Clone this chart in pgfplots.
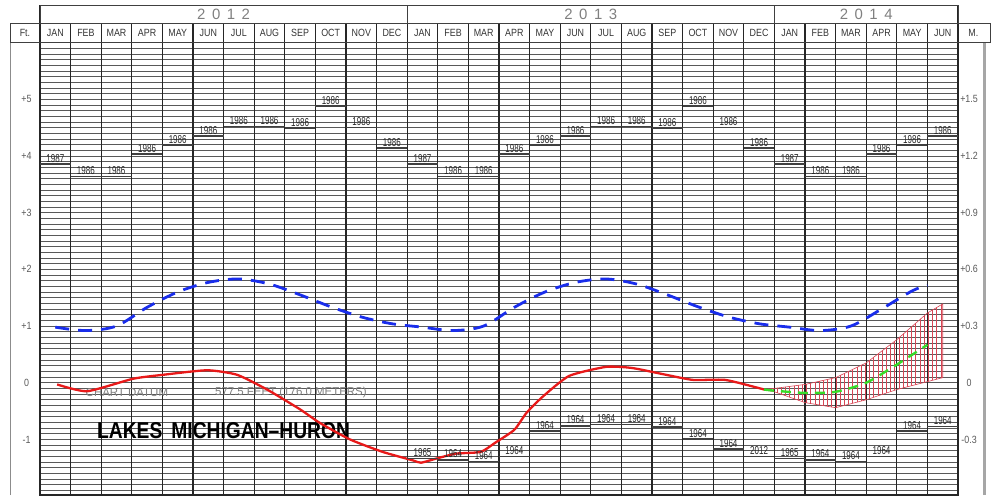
\documentclass[border=0pt]{standalone}
\usepackage{fontspec}
\setmainfont{Liberation Sans}
\newfontfamily\narrow[FakeStretch=0.85]{Liberation Sans}
\newfontfamily\recfont[FakeStretch=0.70]{Liberation Sans}
\newfontfamily\titlefont[FakeStretch=0.84]{Liberation Sans}
\usepackage{pgfplots}
\pgfplotsset{compat=1.18}
\usetikzlibrary{patterns.meta}
\definecolor{lblue}{RGB}{25,45,235}
\definecolor{lred}{RGB}{232,25,25}
\definecolor{lgreen}{RGB}{55,220,40}
\definecolor{hatch}{RGB}{215,70,85}
\newcommand{\yr}[4]{#1\hspace{6.5bp}#2\hspace{6.5bp}#3\hspace{6.5bp}#4}
\tikzset{lscale/.style={font=\narrow\fontsize{10.5}{11}\selectfont, text=black!65}}
\begin{document}
\begin{tikzpicture}
\begin{axis}[
  x=30.6bp, y=56.7bp,
  xmin=0, xmax=30, ymin=-1.98, ymax=6.0,
  clip=false,
  axis line style={black!85, line width=1.1bp},
  xtick={0.5,1.5,...,29.5},
  xticklabels={JAN,FEB,MAR,APR,MAY,JUN,JUL,AUG,SEP,OCT,NOV,DEC,JAN,FEB,MAR,APR,MAY,JUN,JUL,AUG,SEP,OCT,NOV,DEC,JAN,FEB,MAR,APR,MAY,JUN},
  xticklabel pos=upper,
  xtick style={draw=none},
  xticklabel style={anchor=center, yshift=9.2bp, font=\narrow\fontsize{10.5}{11}\selectfont, text=black!80, inner sep=0pt},
  ytick={-1.9,-1.8,...,5.95},
  yticklabels={},
  ytick style={draw=none},
  ymajorgrids,
  grid style={black!65, line width=0.65bp},
]
% bounding box corners
\coordinate (BBsw) at (axis cs:-1.307,-1.98);
\coordinate (BBne) at (axis cs:31.11,6.75);
% month column lines
\pgfplotsinvokeforeach{1,...,29}{\draw[black!85, line width=1.1bp] (axis cs:#1,-1.98) -- (axis cs:#1,6.33);}
\draw[black!85, line width=1.1bp] (axis cs:0,6.0) -- (axis cs:0,6.66);
\draw[black!85, line width=1.1bp] (axis cs:30,6.0) -- (axis cs:30,6.66);
% header rows
\draw[black!75, line width=0.9bp] (axis cs:-0.98,6.0) rectangle (axis cs:31.05,6.33);
\draw[black!75, line width=0.9bp] (axis cs:0,6.33) rectangle (axis cs:30,6.66);
\draw[black!75, line width=0.9bp] (axis cs:12,6.33) -- (axis cs:12,6.66);
\draw[black!75, line width=0.9bp] (axis cs:24,6.33) -- (axis cs:24,6.66);
\draw[black!45, line width=1bp] (axis cs:-0.98,-1.98) -- (axis cs:-0.98,6.0);
\draw[black!35, line width=3bp] (axis cs:30.85,-1.98) -- (axis cs:30.85,6.0);
% header texts
\node[font=\fontsize{15}{16}\selectfont, text=black!50] at (axis cs:6,6.495) {\yr2012};
\node[font=\fontsize{15}{16}\selectfont, text=black!50] at (axis cs:18,6.495) {\yr2013};
\node[font=\fontsize{15}{16}\selectfont, text=black!50] at (axis cs:27,6.495) {\yr2014};
\node[font=\narrow\fontsize{10.5}{11}\selectfont, text=black!80] at (axis cs:-0.49,6.167) {Ft.};
\node[font=\narrow\fontsize{10.5}{11}\selectfont, text=black!80] at (axis cs:30.5,6.167) {M.};
% left / right scale labels
\node[lscale] at (axis cs:-0.44,5) {+5};
\node[lscale] at (axis cs:-0.44,4) {+4};
\node[lscale] at (axis cs:-0.44,3) {+3};
\node[lscale] at (axis cs:-0.44,2) {+2};
\node[lscale] at (axis cs:-0.44,1) {+1};
\node[lscale] at (axis cs:-0.44,0) {0};
\node[lscale] at (axis cs:-0.44,-1) {-1};
\node[lscale] at (axis cs:30.36,5) {+1.5};
\node[lscale] at (axis cs:30.36,4) {+1.2};
\node[lscale] at (axis cs:30.36,3) {+0.9};
\node[lscale] at (axis cs:30.36,2) {+0.6};
\node[lscale] at (axis cs:30.36,1) {+0.3};
\node[lscale] at (axis cs:30.36,0) {0};
\node[lscale] at (axis cs:30.36,-1) {-0.3};
% chart texts
\node[font=\fontsize{11.5}{12}\selectfont, text=black!50] at (axis cs:2.84,-0.176) {CHART DATUM};
\node[font=\fontsize{11.5}{12}\selectfont, text=black!50] at (axis cs:8.2,-0.176) {577.5 FEET (176.0 METERS)};
\node[font=\titlefont\bfseries\fontsize{23}{24}\selectfont, text=black] at (axis cs:6.0,-0.85) {LAKES\hspace{9bp}MICHIGAN–HURON};

% record highs
\addplot[only marks, mark=-, mark size=15.3bp, mark options={line width=1.5bp, draw=black!75},
  nodes near coords, point meta=explicit symbolic,
  every node near coord/.append style={anchor=south, font=\recfont\fontsize{11.5}{12}\selectfont, text=black!85, inner sep=1bp}]
table[meta=lab]{
x y lab
0.5 3.86 1987
1.5 3.64 1986
2.5 3.64 1986
3.5 4.03 1986
4.5 4.19 1986
5.5 4.35 1986
6.5 4.52 1986
7.5 4.52 1986
8.5 4.49 1986
9.5 4.88 1986
10.5 4.50 1986
11.5 4.14 1986
12.5 3.86 1987
13.5 3.64 1986
14.5 3.64 1986
15.5 4.03 1986
16.5 4.19 1986
17.5 4.35 1986
18.5 4.52 1986
19.5 4.52 1986
20.5 4.49 1986
21.5 4.88 1986
22.5 4.50 1986
23.5 4.14 1986
24.5 3.86 1987
25.5 3.64 1986
26.5 3.64 1986
27.5 4.03 1986
28.5 4.19 1986
29.5 4.35 1986
};
% record lows
\addplot[only marks, mark=-, mark size=15.3bp, mark options={line width=1.5bp, draw=black!75},
  nodes near coords, point meta=explicit symbolic,
  every node near coord/.append style={anchor=south, font=\recfont\fontsize{11.5}{12}\selectfont, text=black!85, inner sep=1bp}]
table[meta=lab]{
x y lab
12.5 -1.34 1965
13.5 -1.36 1964
14.5 -1.39 1964
15.5 -1.30 1964
16.5 -0.85 1964
17.5 -0.76 1964
18.5 -0.74 1964
19.5 -0.74 1964
20.5 -0.78 1964
21.5 -0.99 1964
22.5 -1.17 1964
23.5 -1.30 2012
24.5 -1.34 1965
25.5 -1.36 1964
26.5 -1.39 1964
27.5 -1.30 1964
28.5 -0.85 1964
29.5 -0.77 1964
};
% forecast range (hatched)
\addplot[draw=hatch, line width=0.6bp, pattern={Lines[angle=90,distance=4.2bp,line width=0.6bp]}, pattern color=hatch]
coordinates {(23.62,-0.12) (24,-0.10) (25,-0.03) (26,0.09) (27,0.35) (28,0.76) (29,1.23) (29.5,1.39)
 (29.5,0.09) (29,0.02) (28,-0.12) (27,-0.30) (26,-0.44) (25,-0.35) (24,-0.16)} -- cycle;
% long-term average
\addplot[lblue, line width=2.8bp, dash pattern=on 14bp off 9bp, smooth, tension=0.5] coordinates {
(0.5,0.98) (1.5,0.92) (2.5,1.00) (3.5,1.33) (4.5,1.60) (5.5,1.77) (6.5,1.83) (7.5,1.74) (8.5,1.55) (9.5,1.34) (10.5,1.16) (11.5,1.04)
(12.5,0.98) (13.5,0.92) (14.5,1.00) (15.5,1.33) (16.5,1.60) (17.5,1.77) (18.5,1.83) (19.5,1.74) (20.5,1.55) (21.5,1.34) (22.5,1.16) (23.5,1.04)
(24.5,0.98) (25.5,0.92) (26.5,1.00) (27.5,1.30) (28.5,1.62) (29.0,1.72)};
% recorded levels
\addplot[lred, line width=2.3bp, smooth, tension=0.35] coordinates {
(0.56,-0.03) (1.54,-0.15) (3.04,0.07) (4.02,0.14) (5.46,0.22) (6.44,0.14) (7.42,-0.12) (8.5,-0.47) (9.15,-0.71) (10.13,-1.0) (11.2,-1.22) (12.19,-1.37) (12.45,-1.41) (13.0,-1.33) (13.6,-1.25) (14.4,-1.22) (14.87,-1.06) (15.5,-0.83) (15.9,-0.53) (16.44,-0.24) (17.29,0.12) (18.5,0.28) (19.35,0.26) (20.46,0.14) (21.34,0.05) (22.39,0.05) (23.46,-0.09) (23.66,-0.12)};
% forecast
\addplot[lgreen, line width=2.4bp, dash pattern=on 10bp off 7bp, smooth, tension=0.4] coordinates {
(23.66,-0.12) (24,-0.14) (25,-0.18) (26,-0.16) (27,0.0) (28,0.32) (29,0.67)};
\end{axis}
\pgfresetboundingbox
\useasboundingbox (BBsw) rectangle (BBne);
\end{tikzpicture}
\end{document}
